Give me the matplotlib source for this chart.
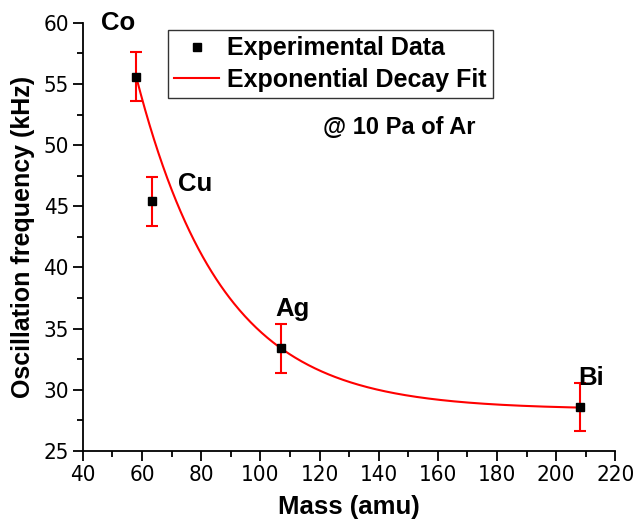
import matplotlib
matplotlib.use('Agg')
import matplotlib.pyplot as plt
import numpy as np
from matplotlib import font_manager
from matplotlib.font_manager import FontProperties
from matplotlib.ticker import MultipleLocator

# data
elements = ['Co', 'Cu', 'Ag', 'Bi']
mass = [58.0, 63.3, 107.0, 208.0]
freq = [55.6, 45.4, 33.4, 28.6]
err = [2.0, 2.0, 2.0, 2.0]

# exponential decay fit  y = y0 + A*exp(-x/t)
y0 = 28.4
A = 27.2 * np.exp(58.0 / 28.9)
t = 28.9

label_pos = [(52, 60.0), (78, 46.8), (111, 36.6), (212, 31.0)]

# look for a condensed face for the tick labels
narrow_file = None
for f in font_manager.fontManager.ttflist:
    fn = f.fname.lower()
    if ('narrow' in fn or 'condensed' in fn) and 'bold' not in fn and 'italic' not in fn \
            and 'oblique' not in fn and 'mono' not in fn and 'serif' not in fn.replace('sans', ''):
        if narrow_file is None or 'liberation' in fn:
            narrow_file = f.fname
tick_font = FontProperties(fname=narrow_file, size=16) if narrow_file else \
    FontProperties(family='Liberation Sans', size=15)

plt.rcParams['font.family'] = ['Liberation Sans', 'DejaVu Sans']

fig = plt.figure(figsize=(6.33, 5.3), dpi=100)
ax = fig.add_axes([0.131, 0.149, 0.841, 0.808])

xf = np.linspace(mass[0], mass[-1], 400)
yf = y0 + A * np.exp(-xf / t)
ax.plot(xf, yf, color='red', lw=1.5, label='Exponential Decay Fit', zorder=2)
ax.errorbar(mass, freq, yerr=err, fmt='none', ecolor='red', elinewidth=1.5,
            capsize=4, capthick=1.5, zorder=3)
ax.plot(mass, freq, 's', color='black', ms=6, ls='none',
        label='Experimental Data', zorder=4)

for name, (px, py) in zip(elements, label_pos):
    ax.text(px, py, name, fontsize=18.5, fontweight='bold', ha='center', va='center')

ax.text(399 / 633, 1 - 128 / 530, '@ 10 Pa of Ar', transform=fig.transFigure,
        fontsize=17, fontweight='bold', ha='center', va='center')

ax.set_xlim(40, 220)
ax.set_ylim(25, 60)
ax.xaxis.set_major_locator(MultipleLocator(20))
ax.xaxis.set_minor_locator(MultipleLocator(10))
ax.yaxis.set_major_locator(MultipleLocator(5))
ax.yaxis.set_minor_locator(MultipleLocator(2.5))
ax.spines['top'].set_visible(False)
ax.spines['right'].set_visible(False)
for s in ('left', 'bottom'):
    ax.spines[s].set_linewidth(1.3)
ax.tick_params(which='major', length=7, width=1.3, direction='out', pad=3)
ax.tick_params(which='minor', length=4, width=1.3, direction='out')
for lab in ax.get_xticklabels() + ax.get_yticklabels():
    lab.set_fontproperties(tick_font)

ax.set_xlabel('Mass (amu)', fontsize=18.5, fontweight='bold', labelpad=7)
ax.set_ylabel('Oscillation frequency (kHz)', fontsize=18, fontweight='bold', labelpad=6)

h, l = ax.get_legend_handles_labels()
leg = ax.legend(h[::-1], l[::-1], loc='upper left', bbox_to_anchor=(168 / 633, 1 - 30 / 530),
                bbox_transform=fig.transFigure, fancybox=False, frameon=True,
                prop={'weight': 'bold', 'size': 18}, handlelength=1.8,
                borderpad=0.25, labelspacing=0.3, handletextpad=0.3, borderaxespad=0)
leg.get_frame().set_edgecolor('black')
leg.get_frame().set_linewidth(1.0)

fig.savefig('out.png', dpi=100)
